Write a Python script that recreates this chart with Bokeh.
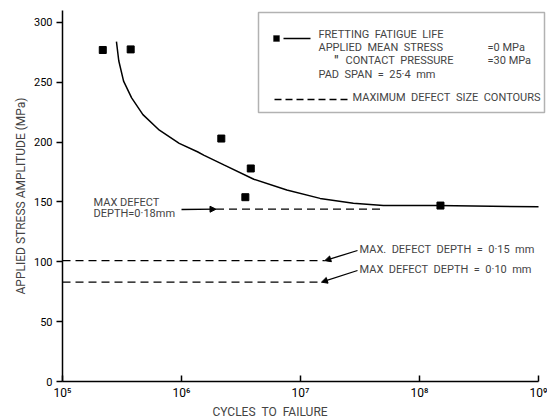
from bokeh.plotting import figure
from bokeh.models import Label, Arrow, NormalHead, BoxAnnotation, FixedTicker, Range1d, Title
from bokeh.embed import file_html
from bokeh.resources import INLINE

# ---------------- data ----------------
test_cycles = [2.18e5, 3.74e5, 2.16e6, 3.82e6, 3.44e6, 1.5e8]
test_stress = [277, 277.5, 203, 178, 154, 147]

curve_cycles = [2.84e5, 2.97e5, 3.26e5, 3.81e5, 4.74e5, 6.52e5, 9.57e5, 1.36e6, 1.55e6,
                2.27e6, 4.05e6, 7.67e6, 1.46e7, 2.78e7, 4.97e7, 1.4e8, 1.0e9]
curve_stress = [284, 268, 251, 237, 223, 210, 199, 192, 189,
                181, 169, 160, 153, 149, 147, 147, 146]

defect_depth_mm = [0.18, 0.15, 0.10]
defect_stress = [144, 101, 83]
defect_from = [1.95e6, 1.0e5, 1.0e5]
defect_to = [4.8e7, 1.6e7, 1.5e7]
defect_labels = ["MAX DEFECT\nDEPTH=0·18mm", "MAX. DEFECT DEPTH = 0·15 mm", "MAX DEFECT DEPTH = 0·10 mm"]

x_ticks = [1e5, 1e6, 1e7, 1e8, 1e9]
x_tick_labels = ["10⁵", "10⁶", "10⁷", "10⁸", "10⁹"]
y_ticks = [0, 50, 100, 150, 200, 250, 300]

legend_lines = ["FRETTING FATIGUE LIFE", "APPLIED MEAN STRESS", "CONTACT PRESSURE",
                "PAD SPAN = 25·4 mm", "MAXIMUM DEFECT SIZE CONTOURS"]
legend_values = ["=0 MPa", "=30 MPa"]

NB = "\u00a0"

# ---------------- layout ----------------
FONT = "Roboto"
FS = "11px"
W, H = 547, 418
BL, BR, BT, BB = 62, 0, 10, 36
FRAME_L, FRAME_B = BL, H - BB   # canvas coordinates of frame left / bottom


def sx(px):
    return px - FRAME_L


def sy(py):
    return FRAME_B - py


p = figure(width=W, height=H, x_axis_type="log", output_backend="svg", toolbar_location=None,
           min_border_left=BL, min_border_right=BR, min_border_top=BT, min_border_bottom=BB,
           x_range=Range1d(1e5, 1.19e9), y_range=Range1d(0, 310))
p.outline_line_color = None
p.xgrid.grid_line_color = None
p.ygrid.grid_line_color = None
p.background_fill_color = "white"
p.border_fill_color = "white"

# axes
xa = p.xaxis[0]
xa.ticker = FixedTicker(ticks=x_ticks)
xa.major_label_overrides = {t: l for t, l in zip(x_ticks, x_tick_labels)}
xa.bounds = (1e5, 1e9)
xa.major_tick_in = 6
xa.major_tick_out = 0
xa.minor_tick_line_color = None
xa.axis_line_width = 1.5
xa.major_tick_line_width = 1.5
xa.major_label_text_font = FONT
xa.major_label_text_font_size = "12px"
xa.major_label_text_color = "black"
xa.major_label_standoff = 4

ya = p.yaxis[0]
ya.ticker = FixedTicker(ticks=y_ticks)
ya.major_tick_in = 0
ya.major_tick_out = 6
ya.minor_tick_line_color = None
ya.axis_line_width = 1.5
ya.major_tick_line_width = 1.5
ya.major_label_text_font = FONT
ya.major_label_text_font_size = FS
ya.major_label_text_color = "black"
ya.major_label_standoff = 4
ya.axis_label = NB.join(["APPLIED", "STRESS", "AMPLITUDE", "(MPa)"])
ya.axis_label_text_font = FONT
ya.axis_label_text_font_size = "12px"
ya.axis_label_text_font_style = "normal"
ya.axis_label_standoff = 3

# x axis title, placed off-centre as in the reference
p.add_layout(Title(text=(NB * 2).join(["CYCLES", "TO", "FAILURE"]), align="left", offset=212 - FRAME_L,
                   standoff=0, text_font=FONT, text_font_size="12px", text_font_style="normal"), "below")

# fitted curve and test points
p.line(curve_cycles, curve_stress, line_color="black", line_width=1.5)
p.scatter(test_cycles, test_stress, marker="square", size=7, fill_color="black", line_color="black")

# defect contours
for x0, x1, s in zip(defect_from, defect_to, defect_stress):
    p.line([x0, x1], [s, s], line_color="black", line_width=1.3, line_dash="8 5")

head = dict(size=6, fill_color="black", line_color="black")
# 0.18 mm label (left, arrow pointing right)
lines018 = defect_labels[0].split("\n")
p.add_layout(Label(x=sx(93), y=sy(203), x_units="screen", y_units="screen", text=lines018[0],
                   text_font=FONT, text_font_size=FS, text_baseline="middle"))
p.add_layout(Label(x=sx(93), y=sy(214), x_units="screen", y_units="screen", text=lines018[1],
                   text_font=FONT, text_font_size=FS, text_baseline="middle"))
p.add_layout(Arrow(x_start=sx(181), y_start=sy(210), start_units="screen",
                   x_end=defect_from[0], y_end=defect_stress[0], end_units="data",
                   end=NormalHead(**head), line_width=1.3))
# 0.15 / 0.10 labels (right, arrows pointing left)
for i, py in ((1, 250), (2, 270)):
    p.add_layout(Label(x=sx(359), y=sy(py), x_units="screen", y_units="screen",
                       text=defect_labels[i].replace(" ", NB + " "),
                       text_font=FONT, text_font_size=FS, text_baseline="middle"))
    p.add_layout(Arrow(x_start=sx(357), y_start=sy(py + 1), start_units="screen",
                       x_end=defect_to[i], y_end=defect_stress[i], end_units="data",
                       end=NormalHead(**head), line_width=1.3))

# legend box
p.add_layout(BoxAnnotation(left=sx(258), right=sx(544), top=sy(13), bottom=sy(113),
                           left_units="screen", right_units="screen", top_units="screen", bottom_units="screen",
                           fill_color="white", fill_alpha=1.0, line_color="black", line_width=1.5))
lg_y = [35, 48, 61, 75, 98]
for t, py, px in zip(legend_lines, lg_y, [318, 318, 345, 318, 352]):
    p.add_layout(Label(x=sx(px), y=sy(py), x_units="screen", y_units="screen", text=t.replace(" ", NB + " "),
                       text_font=FONT, text_font_size=FS, text_baseline="middle"))
p.add_layout(Label(x=sx(334), y=sy(61), x_units="screen", y_units="screen", text="\"",
                   text_font=FONT, text_font_size="12px", text_font_style="bold", text_baseline="middle"))
for t, py in zip(legend_values, [48, 61]):
    p.add_layout(Label(x=sx(487), y=sy(py), x_units="screen", y_units="screen", text=t,
                       text_font=FONT, text_font_size=FS, text_baseline="middle"))
# legend glyphs
p.add_layout(BoxAnnotation(left=sx(273), right=sx(279), top=sy(36), bottom=sy(42),
                           left_units="screen", right_units="screen", top_units="screen", bottom_units="screen",
                           fill_color="black", fill_alpha=1.0, line_color="black"))
p.add_layout(Arrow(x_start=sx(283), y_start=sy(39), x_end=sx(310), y_end=sy(39),
                   start_units="screen", end_units="screen", end=None, line_width=1.3))
p.add_layout(Arrow(x_start=sx(274), y_start=sy(100), x_end=sx(350), y_end=sy(100),
                   start_units="screen", end_units="screen", end=None, line_width=1.3, line_dash="7 4"))

open("out.html", "w").write(file_html(p, INLINE))
